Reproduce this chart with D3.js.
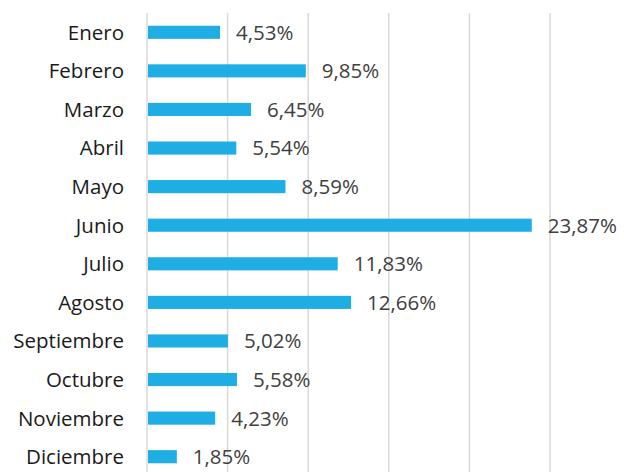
<!DOCTYPE html>
<html lang="es">
    <head>
        <meta charset="utf-8">
        <title>Porcentaje por mes</title>
        <script type="text/javascript" src="https://d3js.org/d3.v7.min.js"></script>
        <style>
            body { margin: 0; background: #fff; }
            .grid line { stroke: #d9d9d9; stroke-width: 1.5; }
            .cat { font-family: "Open Sans", sans-serif; font-size: 20.5px; fill: #1a1a1a; }
            .val { font-family: "Open Sans", sans-serif; font-size: 20.5px; fill: #404040; }
        </style>
    </head>
    <body>
        <svg id="chart" width="624" height="472"></svg>
    </body>
    <script>
        // data
        let months = ["Enero", "Febrero", "Marzo", "Abril", "Mayo", "Junio",
                      "Julio", "Agosto", "Septiembre", "Octubre", "Noviembre", "Diciembre"];
        let values = [4.53, 9.85, 6.45, 5.54, 8.59, 23.87, 11.83, 12.66, 5.02, 5.58, 4.23, 1.85];
        let gridTicks = [0, 5, 10, 15, 20, 25];

        let svg = d3.select("#chart");
        let margin = {left: 147, top: 13};
        let plotW = 403;
        let plotH = 463;   // runs past the bottom edge, like the original

        let xScale = d3.scaleLinear().domain([0, 25]).range([0, plotW]);
        let yScale = d3.scaleBand().domain(months).range([0, plotH]).paddingInner(0.66).paddingOuter(0.33);

        let g = svg.append("g")
            .attr("transform", "translate(" + margin.left + "," + margin.top + ")");

        // vertical gridlines
        g.append("g").attr("class", "grid")
            .selectAll("line")
            .data(gridTicks)
            .join("line")
            .attr("x1", d => xScale(d)).attr("x2", d => xScale(d))
            .attr("y1", 0).attr("y2", plotH);

        // bars
        g.selectAll("rect.bar")
            .data(values)
            .join("rect")
            .attr("class", "bar")
            .attr("x", xScale(0) + 1)
            .attr("y", (d, i) => yScale(months[i]))
            .attr("width", d => xScale(d) - xScale(0) - 1)
            .attr("height", yScale.bandwidth())
            .attr("fill", "#1eaee3");

        // value labels
        g.selectAll("text.val")
            .data(values)
            .join("text")
            .attr("class", "val")
            .attr("x", d => xScale(d) + 16)
            .attr("y", (d, i) => yScale(months[i]) + yScale.bandwidth() / 2)
            .attr("dy", "0.36em")
            .text(d => d.toFixed(2).replace(".", ",") + "%");

        // category labels
        g.selectAll("text.cat")
            .data(months)
            .join("text")
            .attr("class", "cat")
            .attr("x", -23)
            .attr("y", d => yScale(d) + yScale.bandwidth() / 2)
            .attr("dy", "0.36em")
            .attr("text-anchor", "end")
            .text(d => d);
    </script>
</html>
